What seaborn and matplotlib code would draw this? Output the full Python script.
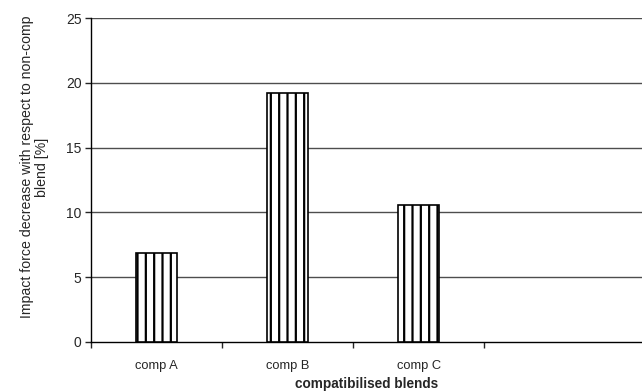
import matplotlib
matplotlib.use("Agg")
import matplotlib.pyplot as plt
import seaborn as sns
import numpy as np

# data
blends = ["comp A", "comp B", "comp C"]
force_decrease = [6.85, 19.2, 10.55]
y_ticks = [0, 5, 10, 15, 20, 25]

sns.set_style("white")
plt.rcParams['font.family'] = ['Liberation Sans', 'DejaVu Sans']
plt.rcParams['hatch.linewidth'] = 1.6
plt.rcParams['hatch.color'] = 'black'

fig = plt.figure(figsize=(6.42, 3.92), dpi=100)
ax = fig.add_axes([0.142, 0.128, 0.858, 0.826])

sns.barplot(x=blends, y=force_decrease, color="white", edgecolor="black",
            linewidth=1.2, width=0.31, hatch="||", ax=ax, zorder=3)

# grid lines at every y tick, no top/right frame
for yv in y_ticks[1:]:
    ax.axhline(yv, color="#4d4d4d", lw=1.0, zorder=1)
sns.despine(ax=ax, top=True, right=True)
ax.spines['left'].set_color('black')
ax.spines['bottom'].set_color('black')
ax.spines['left'].set_linewidth(1.0)
ax.spines['bottom'].set_linewidth(1.0)

ax.set_ylim(0, 25)
ax.set_yticks(y_ticks)
ax.tick_params(axis='y', which='major', direction='out', length=4, width=1,
               left=True, labelsize=10, pad=3)

# category slots: tick marks at boundaries, labels in the middle
n_slots = len(blends) + 1
ax.set_xlim(-0.5, n_slots - 0.5 + 0.206)
ax.set_xticks(np.arange(len(blends) + 1) - 0.5)
ax.set_xticklabels([])
ax.set_xticks(np.arange(len(blends)), minor=True)
ax.set_xticklabels(blends, minor=True)
ax.tick_params(axis='x', which='major', direction='out', length=4, width=1, bottom=True)
ax.tick_params(axis='x', which='minor', length=0, labelsize=9.3, pad=13)

ax.set_xlabel("compatibilised blends", fontsize=9.8, fontweight='bold')
ax.xaxis.set_label_coords(0.5, -0.11)
ax.xaxis.label.set_va('top')
ax.set_ylabel("Impact force decrease with respect to non-comp\nblend [%]",
              fontsize=10.2, linespacing=1.15)
ax.yaxis.set_label_coords(-0.076, 0.54)

fig.savefig("out.png", dpi=100)
